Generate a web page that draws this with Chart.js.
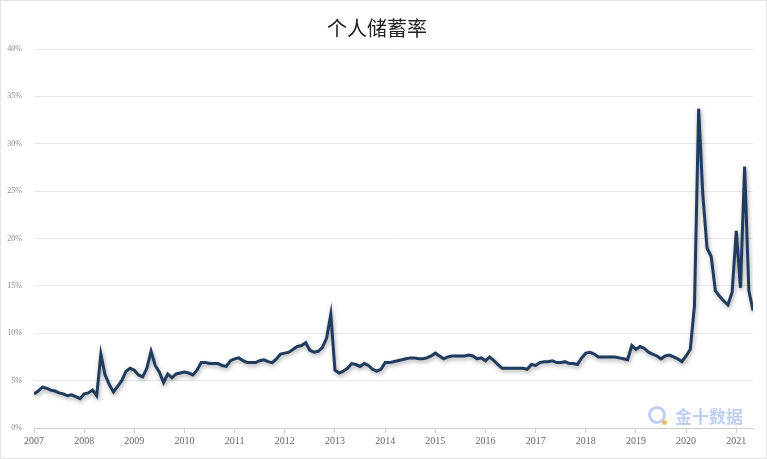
<!DOCTYPE html>
<html>
<head>
<meta charset="utf-8">
<script src="https://cdn.jsdelivr.net/npm/chart.js@4/dist/chart.umd.min.js"></script>
<style>
  html, body { margin: 0; padding: 0; background: #fff; }
  #wrap { position: relative; width: 767px; height: 459px; box-sizing: border-box; border: 1px solid #e3e3e3; }
  #watermark { position: absolute; left: 647px; top: 402px; height: 24px; display: flex; align-items: center;
    font-family: "Noto Sans CJK SC", sans-serif; font-weight: 700; font-size: 17px; color: rgba(140, 165, 230, 0.55); }
  #watermark .logo { width: 12px; height: 12px; border: 3px solid rgba(140, 165, 230, 0.55); border-radius: 50%; margin-right: 9px; position: relative; }
  #watermark .logo::after { content: ''; position: absolute; right: -4px; bottom: -4px; width: 5px; height: 5px; border-radius: 50%; background: rgba(245, 170, 60, 0.8); }
</style>
</head>
<body>
<div id="wrap">
  <canvas id="savingChart" width="765" height="457"></canvas>
  <div id="watermark"><span class="logo"></span>金十数据</div>
</div>
<script>
// monthly personal saving rate (%), Jan 2007 - May 2021
const startYear = 2007;
const rate2007 = [3.6, 3.9, 4.3, 4.2, 4.0, 3.9, 3.7, 3.6, 3.4, 3.5, 3.3, 3.1];
const rate2008 = [3.6, 3.7, 4.0, 3.4, 7.8, 5.6, 4.6, 3.8, 4.4, 5.0, 6.0, 6.3];
const rate2009 = [6.1, 5.6, 5.4, 6.3, 8.1, 6.6, 5.9, 4.8, 5.7, 5.3, 5.7, 5.8];
const rate2010 = [5.9, 5.8, 5.6, 6.1, 6.9, 6.9, 6.8, 6.8, 6.8, 6.6, 6.5, 7.1];
const rate2011 = [7.3, 7.4, 7.1, 6.9, 6.9, 6.9, 7.1, 7.2, 7.0, 6.9, 7.3, 7.8];
const rate2012 = [7.9, 8.0, 8.3, 8.6, 8.7, 9.0, 8.2, 8.0, 8.1, 8.5, 9.5, 12.0];
const rate2013 = [6.1, 5.8, 6.0, 6.3, 6.8, 6.7, 6.5, 6.8, 6.6, 6.2, 6.0, 6.2];
const rate2014 = [6.9, 6.9, 7.0, 7.1, 7.2, 7.3, 7.4, 7.4, 7.3, 7.3, 7.4, 7.6];
const rate2015 = [7.9, 7.6, 7.3, 7.5, 7.6, 7.6, 7.6, 7.6, 7.7, 7.6, 7.3, 7.4];
const rate2016 = [7.1, 7.5, 7.1, 6.7, 6.3, 6.3, 6.3, 6.3, 6.3, 6.3, 6.2, 6.7];
const rate2017 = [6.6, 6.9, 7.0, 7.0, 7.1, 6.9, 6.9, 7.0, 6.8, 6.8, 6.7, 7.4];
const rate2018 = [7.9, 8.0, 7.8, 7.5, 7.5, 7.5, 7.5, 7.5, 7.4, 7.3, 7.2, 8.7];
const rate2019 = [8.3, 8.6, 8.4, 8.0, 7.8, 7.6, 7.3, 7.6, 7.7, 7.5, 7.3, 7.0];
const rate2020 = [7.6, 8.3, 12.9, 33.7, 24.6, 19.0, 18.1, 14.5, 13.9, 13.4, 13.0, 14.3];
const rate2021 = [20.8, 14.8, 27.6, 14.5, 12.4];

const savingRate = [].concat(rate2007, rate2008, rate2009, rate2010, rate2011, rate2012, rate2013,
  rate2014, rate2015, rate2016, rate2017, rate2018, rate2019, rate2020, rate2021);

const yTicks = [0, 5, 10, 15, 20, 25, 30, 35, 40];

// soft shadow under the line
const lineShadow = {
  id: 'lineShadow',
  beforeDatasetDraw(chart) {
    const ctx = chart.ctx;
    ctx.save();
    ctx.shadowColor = 'rgba(0, 0, 0, 0.35)';
    ctx.shadowBlur = 4;
    ctx.shadowOffsetX = 1;
    ctx.shadowOffsetY = 2;
  },
  afterDatasetDraw(chart) {
    chart.ctx.restore();
  }
};

const ctx = document.getElementById('savingChart').getContext('2d');
new Chart(ctx, {
  type: 'line',
  data: {
    datasets: [{
      label: '个人储蓄率',
      data: savingRate.map((v, i) => ({ x: i, y: v })),
      borderColor: '#1f3b5e',
      borderWidth: 3,
      pointRadius: 0,
      tension: 0,
      fill: false
    }]
  },
  plugins: [lineShadow],
  options: {
    responsive: false,
    animation: false,
    layout: { padding: { left: 0, right: 13, bottom: 9 } },
    plugins: {
      legend: { display: false },
      tooltip: { enabled: false },
      title: {
        display: true,
        text: '个人储蓄率',
        color: '#222',
        font: { family: "'Noto Sans CJK SC', sans-serif", size: 20, weight: 'normal' },
        padding: { top: 15, bottom: 9 }
      }
    },
    scales: {
      x: {
        type: 'linear',
        min: 0,
        max: savingRate.length - 1,
        afterBuildTicks: function (scale) {
          scale.ticks = [];
          for (let i = 0; i < savingRate.length; i += 12) scale.ticks.push({ value: i });
        },
        grid: { drawOnChartArea: false, drawTicks: true, tickLength: 5, color: '#cfcfcf' },
        border: { color: '#cfcfcf' },
        ticks: {
          padding: 2,
          maxRotation: 0,
          color: '#666',
          font: { family: "'Liberation Serif', serif", size: 10 },
          callback: function (value) { return String(startYear + value / 12); }
        }
      },
      y: {
        min: 0,
        max: 40,
        afterBuildTicks: function (scale) {
          scale.ticks = yTicks.map(v => ({ value: v }));
        },
        afterFit: function (scale) { scale.width = 33; },
        grid: { color: '#e8e8e8', drawTicks: false },
        border: { display: false },
        ticks: {
          padding: 12,
          color: '#888',
          font: { family: "'Liberation Serif', serif", size: 8 },
          callback: function (value) { return value + '%'; }
        }
      }
    }
  }
});
</script>
</body>
</html>
